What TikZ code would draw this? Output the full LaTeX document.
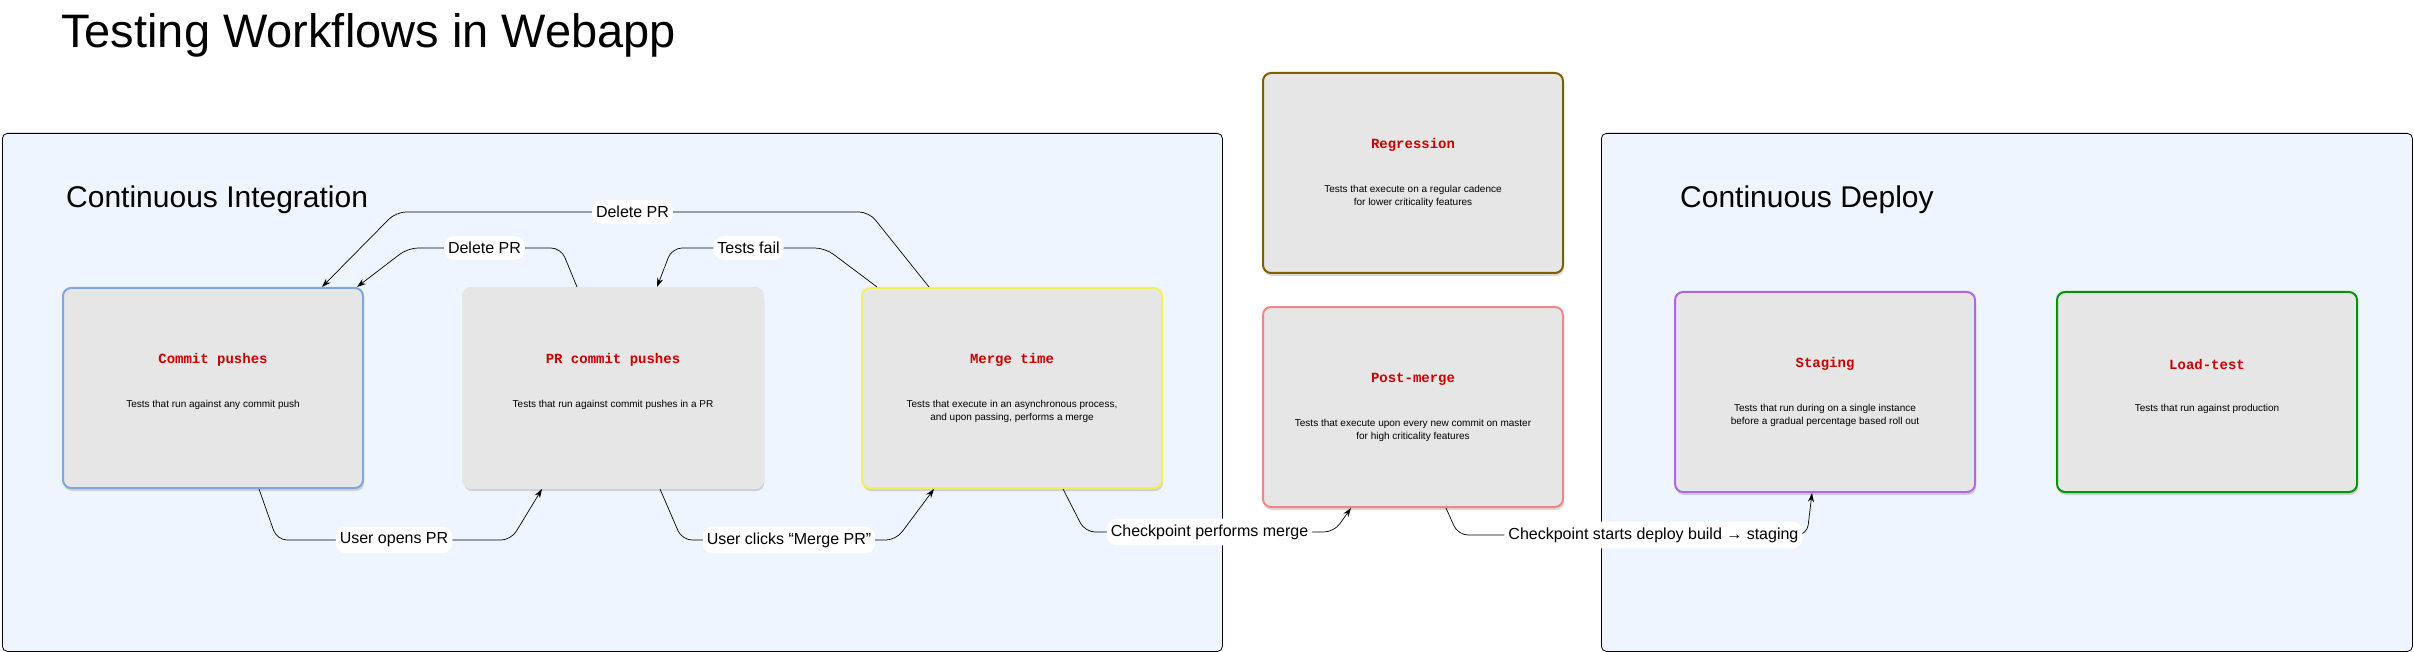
\documentclass[tikz,border=0pt]{standalone}
\usepackage{fontspec}
\setmainfont{Liberation Sans}
\setmonofont{Liberation Mono}
\usetikzlibrary{arrows.meta,shadows,positioning}

\definecolor{panelblue}{RGB}{238,245,255}
\definecolor{boxgray}{RGB}{230,230,230}
\definecolor{namered}{RGB}{204,0,0}
\definecolor{pushblue}{RGB}{126,166,224}
\definecolor{mergeyellow}{RGB}{245,240,90}
\definecolor{regbrown}{RGB}{127,96,0}
\definecolor{postred}{RGB}{240,135,135}
\definecolor{stagepurple}{RGB}{178,102,230}
\definecolor{loadgreen}{RGB}{0,150,0}

\tikzset{
  panel/.style={draw=black, line width=0.8pt, fill=panelblue, rounded corners=5pt, anchor=north west, inner sep=0pt},
  heading/.style={font=\fontsize{30}{36}\selectfont, anchor=base west, inner sep=0pt},
  testbox/.style={draw=#1, line width=2pt, fill=boxgray, rounded corners=8pt, minimum width=300pt, minimum height=200pt, anchor=north west,
    drop shadow={opacity=0.3, shadow xshift=1pt, shadow yshift=-3pt}},
  boxname/.style={font=\ttfamily\bfseries\fontsize{14}{16}\selectfont, text=namered},
  boxtext/.style={font=\fontsize{10}{13}\selectfont, align=center, anchor=north},
  lbl/.style={fill=white, font=\fontsize{16}{19}\selectfont, inner xsep=4pt, inner ysep=6pt},
  flow/.style={-{Stealth[length=9pt,width=6pt]}, line width=0.7pt, rounded corners=10pt}
}

\begin{document}
\begin{tikzpicture}[x=1pt, y=-1pt]
\useasboundingbox (0,0) rectangle (2414,652);

\node[font=\fontsize{47}{56}\selectfont, anchor=base west, inner sep=0pt] (title) at (61,48) {Testing Workflows in Webapp};

% panels
\node[panel, minimum width=1220pt, minimum height=518pt] (ci) at (2,133) {};
\node[panel, minimum width=811pt, minimum height=518pt] (cd) at (1601,133) {};
\node[heading] (cihead) at (66,208) {Continuous Integration};
\node[heading] (cdhead) at (1680,208) {Continuous Deploy};

% test boxes
\node[testbox=pushblue] (cpush) at (62,287) {};
\node[boxname] (cpushname) at ([yshift=28pt]cpush.center) {Commit pushes};
\node[boxtext] (cpushtext) at ([yshift=-9pt]cpush.center) {Tests that run against any commit push};

\node[testbox=boxgray] (prpush) at (462,287) {};
\node[boxname] (prpushname) at ([yshift=28pt]prpush.center) {PR commit pushes};
\node[boxtext] (prpushtext) at ([yshift=-9pt]prpush.center) {Tests that run against commit pushes in a PR};

\node[testbox=mergeyellow] (merge) at (861,287) {};
\node[boxname] (mergename) at ([yshift=28pt]merge.center) {Merge time};
\node[boxtext] (mergetext) at ([yshift=-9pt]merge.center) {Tests that execute in an asynchronous process,\\and upon passing, performs a merge};

\node[testbox=regbrown] (regress) at (1262,72) {};
\node[boxname] (regressname) at ([yshift=28pt]regress.center) {Regression};
\node[boxtext] (regresstext) at ([yshift=-9pt]regress.center) {Tests that execute on a regular cadence\\for lower criticality features};

\node[testbox=postred] (postmerge) at (1262,306) {};
\node[boxname] (postmergename) at ([yshift=28pt]postmerge.center) {Post-merge};
\node[boxtext] (postmergetext) at ([yshift=-9pt]postmerge.center) {Tests that execute upon every new commit on master\\for high criticality features};

\node[testbox=stagepurple] (staging) at (1674,291) {};
\node[boxname] (stagingname) at ([yshift=28pt]staging.center) {Staging};
\node[boxtext] (stagingtext) at ([yshift=-9pt]staging.center) {Tests that run during on a single instance\\before a gradual percentage based roll out};

\node[testbox=loadgreen] (loadtest) at (2056,291) {};
\node[boxname] (loadtestname) at ([yshift=28pt]loadtest.center) {Load-test};
\node[boxtext] (loadtesttext) at ([yshift=-9pt]loadtest.center) {Tests that run against production};

% connectors below
\draw[flow] ([xshift=46pt]cpush.south) -- ++(18,51) -- node[lbl] {User opens PR} ++(234,0) -- ([xshift=-71pt]prpush.south);
\draw[flow] ([xshift=47pt]prpush.south) -- ++(22,51) -- node[lbl] {User clicks “Merge PR”} ++(214,0) -- ([xshift=-78pt]merge.south);
\draw[flow] ([xshift=51pt]merge.south) -- ++(22,43) -- node[lbl] {Checkpoint performs merge} ++(249,0) -- ([xshift=-62pt]postmerge.south);
\draw[flow] ([xshift=33pt]postmerge.south) -- ++(12,27) -- node[lbl, pos=0.56] {Checkpoint starts deploy build → staging} ++(349,0) -- ([xshift=-13pt]staging.south);

% connectors above
\draw[flow] ([xshift=-36pt]prpush.north) -- ++(-16,-39) -- node[lbl] {Delete PR} ++(-153,0) -- ([xshift=144pt]cpush.north);
\draw[flow] ([xshift=-83pt]merge.north) -- ++(-60,-75) -- node[lbl] {Delete PR} ++(-473,0) -- ([xshift=109pt]cpush.north);
\draw[flow] ([xshift=-135pt]merge.north) -- ++(-52,-39) -- node[lbl] {Tests fail} ++(-153,0) -- ([xshift=44pt]prpush.north);

\end{tikzpicture}
\end{document}
